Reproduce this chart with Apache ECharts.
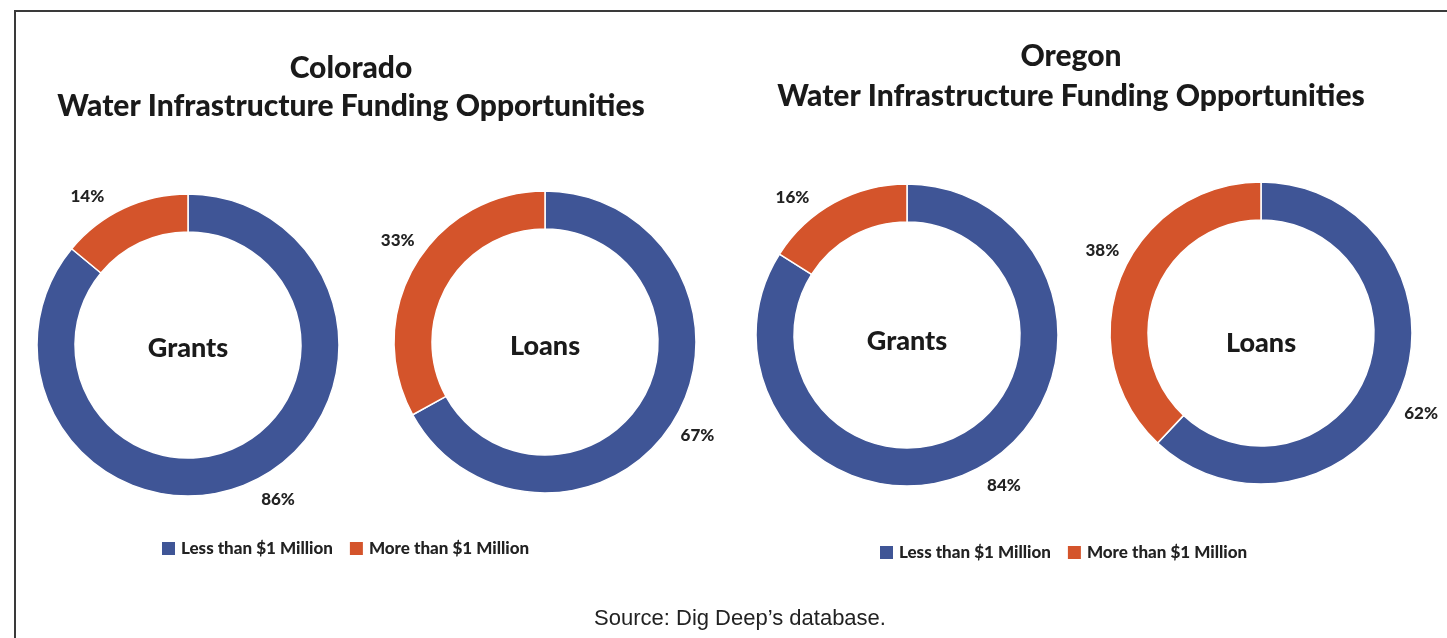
<!DOCTYPE html>
<html>
<head>
<meta charset="utf-8">
<script src="https://cdn.jsdelivr.net/npm/echarts@6/dist/echarts.min.js"></script>
<style>
  html, body { margin: 0; padding: 0; background: #fff; }
  #chart { width: 1447px; height: 638px; }
</style>
</head>
<body>
<div id="chart"></div>
<script>
// Share of funding opportunities by award size (percent)
const sizeClasses = ['Less than $1 Million', 'More than $1 Million'];
const coloradoGrants = [86, 14];
const coloradoLoans = [67, 33];
const oregonGrants = [84, 16];
const oregonLoans = [62, 38];
const programNames = ['Grants', 'Loans', 'Grants', 'Loans'];
const stateTitles = ['Colorado', 'Oregon'];
const subtitle = 'Water Infrastructure Funding Opportunities';
const sourceNote = 'Source: Dig Deep\u2019s database.';

const BLUE = '#3f5596';
const ORANGE = '#d4542b';
const FONT = 'Lato, "Open Sans", sans-serif';

const allSeries = [coloradoGrants, coloradoLoans, oregonGrants, oregonLoans];
// ring centres in pixels
const centres = [[188, 345], [545, 342], [907, 335], [1261, 333]];
const R_OUT = 151, R_IN = 113;
// small angular nudges (degrees) for the percentage labels [blue, orange]
const labelShift = [[-5, -9], [1, 4], [-4, -11], [5, 6]];
const LABEL_DIST = 179;
// vertical offset of the centre caption below each ring centre
const captionDrop = [3, 4, 6, 10];

const chart = echarts.init(document.getElementById('chart'), null, { renderer: 'canvas' });

function midAngle(values, idx) {
  const total = values.reduce((a, b) => a + b, 0);
  let start = 0;
  for (let i = 0; i < idx; i++) start += values[i];
  return (start + values[idx] / 2) / total * 360;
}

const series = allSeries.map((vals, s) => ({
  type: 'pie',
  center: centres[s],
  radius: [R_IN, R_OUT],
  startAngle: 90,
  clockwise: true,
  silent: true,
  itemStyle: { borderColor: '#ffffff', borderWidth: 1.5 },
  label: {
    show: true,
    position: 'inside',
    formatter: p => p.value + '%',
    fontFamily: FONT,
    fontWeight: 900,
    fontSize: 17,
    color: '#222'
  },
  labelLine: { show: false },
  labelLayout: function (p) {
    const a = (midAngle(vals, p.dataIndex) + labelShift[s][p.dataIndex]) * Math.PI / 180;
    return {
      x: centres[s][0] + LABEL_DIST * Math.sin(a),
      y: centres[s][1] - LABEL_DIST * Math.cos(a),
      align: 'center',
      verticalAlign: 'middle'
    };
  },
  data: vals.map((v, i) => ({
    name: sizeClasses[i],
    value: v,
    itemStyle: { color: i === 0 ? BLUE : ORANGE }
  }))
}));

const titles = [
  {
    text: stateTitles[0] + '\n' + subtitle,
    left: 346, top: 44, textAlign: 'center',
    textStyle: { fontFamily: FONT, fontWeight: 900, fontSize: 30, lineHeight: 38, color: '#1a1a1a' }
  },
  {
    text: stateTitles[1] + '\n' + subtitle,
    left: 1066, top: 31, textAlign: 'center',
    textStyle: { fontFamily: FONT, fontWeight: 900, fontSize: 30, lineHeight: 40, color: '#1a1a1a' }
  },
  {
    text: sourceNote,
    left: 735, top: 603, textAlign: 'center',
    textStyle: { fontFamily: '"Liberation Sans", Arial, sans-serif', fontWeight: 'normal', fontSize: 22, color: '#222' }
  }
];

const captions = programNames.map((name, s) => ({
  type: 'text',
  silent: true,
  style: {
    text: name,
    x: centres[s][0],
    y: centres[s][1] + captionDrop[s],
    align: 'center',
    verticalAlign: 'middle',
    font: '900 27px ' + FONT,
    fill: '#1a1a1a'
  }
}));

const legendBase = {
  data: sizeClasses,
  icon: 'rect',
  itemWidth: 15,
  itemHeight: 15,
  itemGap: 15,
  padding: 0,
  selectedMode: false,
  textStyle: { fontFamily: FONT, fontWeight: 900, fontSize: 17, color: '#222' }
};

chart.setOption({
  backgroundColor: '#ffffff',
  animation: false,
  title: titles,
  legend: [
    Object.assign({}, legendBase, { left: 160, top: 540 }),
    Object.assign({}, legendBase, { left: 878, top: 544 })
  ],
  graphic: [
    { type: 'line', silent: true, shape: { x1: 14, y1: 11, x2: 1447, y2: 11 }, style: { stroke: '#3a3a3a', lineWidth: 2 } },
    { type: 'line', silent: true, shape: { x1: 15, y1: 11, x2: 15, y2: 638 }, style: { stroke: '#3a3a3a', lineWidth: 2 } }
  ].concat(captions),
  series: series
});
</script>
</body>
</html>
